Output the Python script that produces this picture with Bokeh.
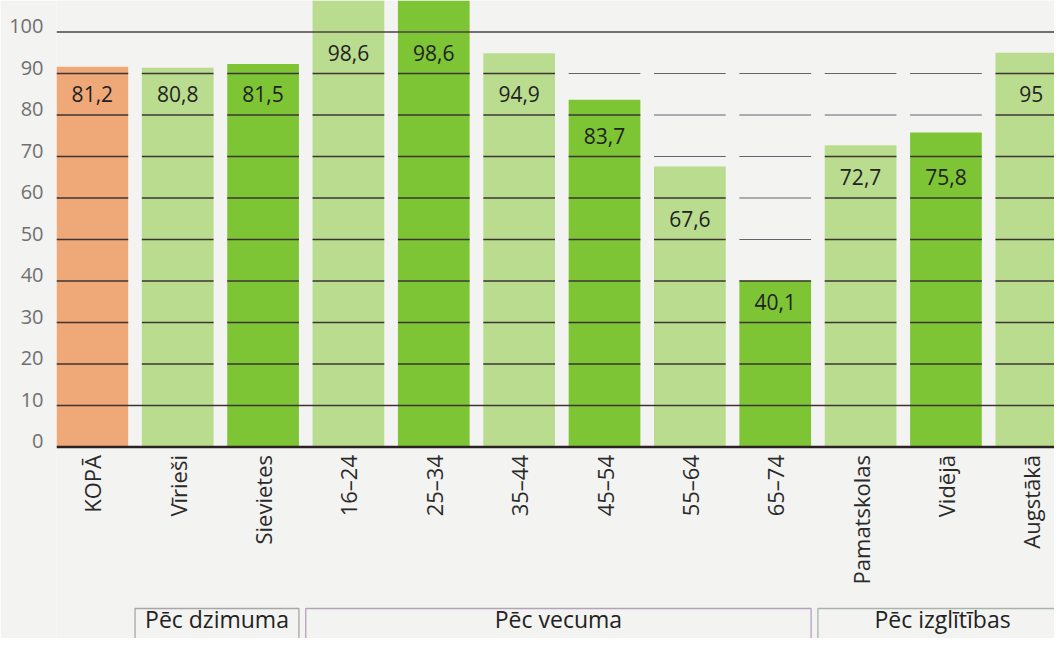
import math
from bokeh.plotting import figure
from bokeh.models import Range1d, LinearAxis, FixedTicker, ColumnDataSource
from bokeh.core.properties import value
from bokeh.embed import file_html
from bokeh.resources import INLINE

# ---- data ----
categories = ["KOPĀ", "Vīrieši", "Sievietes", "16–24", "25–34", "35–44",
              "45–54", "55–64", "65–74", "Pamatskolas", "Vidējā", "Augstākā"]
# numbers printed inside the bars
printed_values = [81.2, 80.8, 81.5, 98.6, 98.6, 94.9, 83.7, 67.6, 40.1, 72.7, 75.8, 95]
# bar heights as drawn in the picture (the first five bars are drawn taller
# than their printed numbers; 16–24 and 25–34 run past the top of the picture)
bar_tops = [91.6, 91.4, 92.3, 108, 108, 94.9, 83.7, 67.6, 40.1, 72.7, 75.8, 95]
bar_kind = ["total", "a", "b", "a", "b", "a", "b", "a", "b", "a", "b", "a"]

groups = ["Pēc dzimuma", "Pēc vecuma", "Pēc izglītības"]
group_first = [1, 3, 9]
group_last = [2, 8, 11]

y_ticks = [0, 10, 20, 30, 40, 50, 60, 70, 80, 90, 100]

# ---- styles ----
FONT = "Open Sans"
BG = "#f3f3f1"
kind_color = {"total": "#efa978", "a": "#badc8f", "b": "#7dc535"}
grid_in = "#3e3434"
grid_out = "#66626c"
box_colors = ["#a6a6a6", "#b4a2bd", "#a7b4a7"]

W, H = 1054, 638
LEFT = 56
PX = 4.15            # pixels per unit on the value axis
BASE = 446.5         # baseline position from figure top
y_top = BASE / PX
y_bot = -(H - BASE) / PX
x_lo, x_hi = -0.42, -0.42 + (W - LEFT) / 85.36
bw = 0.84

p = figure(width=W, height=H, output_backend="svg", toolbar_location=None,
           x_range=Range1d(x_lo, x_hi), y_range=Range1d(y_bot, y_top),
           x_axis_location=None, y_axis_location=None,
           min_border_left=LEFT, min_border_right=0,
           min_border_top=0, min_border_bottom=0)
p.outline_line_color = None
p.background_fill_color = BG
p.border_fill_color = BG
p.xgrid.visible = False
p.ygrid.visible = False

# y axis labels (sit slightly above their lines, as in the picture)
shift = 6 / PX
p.extra_y_ranges = {"lab": Range1d(y_bot - shift, y_top - shift)}
yax = LinearAxis(y_range_name="lab", ticker=FixedTicker(ticks=y_ticks))
yax.axis_line_color = None
yax.major_tick_line_color = None
yax.minor_tick_line_color = None
yax.major_tick_out = 0
yax.major_tick_in = 0
yax.major_label_standoff = 13
yax.major_label_text_font = FONT
yax.major_label_text_font_size = "20px"
yax.major_label_text_color = "#707070"
p.add_layout(yax, "left")

xs = list(range(len(categories)))
colors = [kind_color[k] for k in bar_kind]
src = ColumnDataSource(dict(x=xs, top=bar_tops, color=colors))
p.vbar(x="x", top="top", bottom=0, width=bw, fill_color="color",
       line_color=None, source=src)

# grid segments per column (20..90), full lines at 0, 10, 100
sx0, sx1, sy, sc, sw = [], [], [], [], []
for i, t in enumerate(bar_tops):
    for g in y_ticks:
        if g in (0, 10, 100):
            continue
        inside = g < t
        sx0.append(i - bw / 2)
        sx1.append(i + bw / 2)
        sy.append(g)
        sc.append(grid_in if inside else grid_out)
        sw.append(1.5 if inside else 1.2)
p.segment(x0=sx0, x1=sx1, y0=sy, y1=sy, line_color=sc, line_width=sw)
p.segment(x0=[x_lo] * 3, x1=[x_hi] * 3, y0=[0, 10, 100], y1=[0, 10, 100],
          line_color=["#2a2222", grid_in, "#4c4048"], line_width=[2.5, 1.5, 1.6])

# value labels inside bars: centred in the highest full grid band of the bar
lab_y = [min(math.floor(t / 10) * 10, 100) - 5 for t in bar_tops]
lab_txt = [("%g" % v).replace(".", ",") for v in printed_values]
p.text(x=xs, y=lab_y, text=lab_txt, text_align="center", text_baseline="middle",
       text_font=value(FONT), text_font_size="21px", text_color="#222222")

# category labels (rotated)
p.text(x=xs, y=[-8 / PX] * len(xs), text=categories, angle=math.pi / 2,
       text_align="right", text_baseline="middle",
       text_font=value(FONT), text_font_size="22px", text_color="#2a2a2a")

# group boxes
g_left = [f - 0.5 for f in group_first]
g_right = [l + 0.5 - 0.08 for l in group_last]
box_top = -(608 - BASE) / PX
p.quad(left=g_left, right=g_right, top=[box_top] * 3, bottom=[y_bot - 5] * 3,
       fill_color=None, line_color=box_colors, line_width=1.3)
g_mid = [(a + b) / 2 for a, b in zip(g_left, g_right)]
p.text(x=g_mid, y=[-(634 - BASE) / PX] * 3, text=groups,
       text_align="center", text_baseline="bottom",
       text_font=value(FONT), text_font_size="23px", text_color="#222222")

open("out.html", "w").write(file_html(p, INLINE))
